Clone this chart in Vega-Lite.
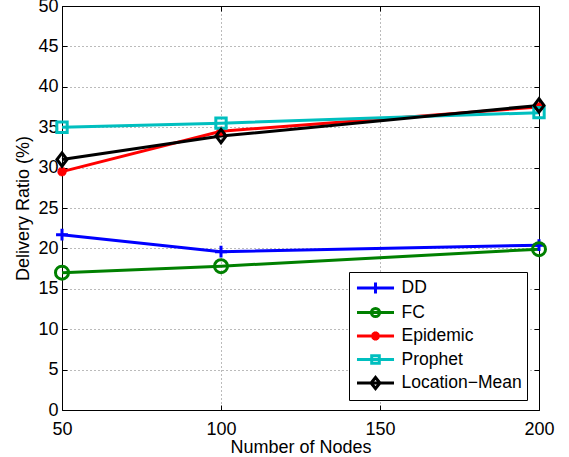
{
  "$schema": "https://vega.github.io/schema/vega-lite/v6.json",
  "width": 477,
  "height": 404,
  "autosize": {"type": "none"},
  "padding": {"left": 62, "top": 6, "right": 30, "bottom": 47},
  "background": "white",
  "config": {
    "view": {"stroke": null},
    "font": "Liberation Sans",
    "axis": {
      "labelFont": "Liberation Sans",
      "labelFontSize": 18,
      "labelColor": "black",
      "titleFont": "Liberation Sans",
      "titleFontSize": 18,
      "titleFontWeight": "normal",
      "titleColor": "black",
      "domainColor": "black",
      "domainWidth": 1,
      "tickColor": "black",
      "tickWidth": 1,
      "gridColor": "#777777",
      "gridDash": [1, 3],
      "gridWidth": 1
    },
    "legend": {
      "labelFont": "Liberation Sans",
      "labelFontSize": 17.5,
      "labelColor": "black"
    }
  },
  "data": {
    "values": [
      {"nodes": 50, "ratio": 21.7, "series": "DD"},
      {"nodes": 100, "ratio": 19.6, "series": "DD"},
      {"nodes": 200, "ratio": 20.4, "series": "DD"},
      {"nodes": 50, "ratio": 17.0, "series": "FC"},
      {"nodes": 100, "ratio": 17.8, "series": "FC"},
      {"nodes": 200, "ratio": 19.9, "series": "FC"},
      {"nodes": 50, "ratio": 29.5, "series": "Epidemic"},
      {"nodes": 100, "ratio": 34.5, "series": "Epidemic"},
      {"nodes": 200, "ratio": 37.5, "series": "Epidemic"},
      {"nodes": 50, "ratio": 35.0, "series": "Prophet"},
      {"nodes": 100, "ratio": 35.5, "series": "Prophet"},
      {"nodes": 200, "ratio": 36.8, "series": "Prophet"},
      {"nodes": 50, "ratio": 31.0, "series": "Location−Mean"},
      {"nodes": 100, "ratio": 33.9, "series": "Location−Mean"},
      {"nodes": 200, "ratio": 37.7, "series": "Location−Mean"}
    ]
  },
  "resolve": {
    "scale": {"shape": "independent", "stroke": "independent"},
    "axis": {"x": "independent", "y": "independent"}
  },
  "layer": [
    {
      "mark": {"type": "line", "strokeWidth": 3},
      "encoding": {
        "x": {
          "field": "nodes", "type": "quantitative",
          "scale": {"domain": [50, 200], "nice": false, "zero": false},
          "axis": {"orient": "bottom", "title": "Number of Nodes", "values": [50, 100, 150, 200], "tickSize": -5, "labelPadding": 15, "titlePadding": 0, "grid": true, "labelFlush": false}
        },
        "y": {
          "field": "ratio", "type": "quantitative",
          "scale": {"domain": [0, 50], "nice": false},
          "axis": {"orient": "left", "title": "Delivery Ratio (%)", "values": [0, 5, 10, 15, 20, 25, 30, 35, 40, 45, 50], "tickSize": -5, "labelPadding": 9, "titlePadding": 5, "grid": true, "labelFlush": false}
        },
        "color": {
          "field": "series", "type": "nominal",
          "scale": {"domain": ["DD", "FC", "Epidemic", "Prophet", "Location−Mean"], "range": ["#0000FF", "#008000", "#FF0000", "#00BFBF", "#000000"]},
          "legend": null
        }
      }
    },
    {
      "mark": {"type": "point", "filled": false, "strokeWidth": 3, "size": 196, "opacity": 1},
      "encoding": {
        "x": {
          "field": "nodes", "type": "quantitative",
          "axis": {"orient": "top", "title": null, "labels": false, "values": [50, 100, 150, 200], "tickSize": -5, "grid": false}
        },
        "y": {
          "field": "ratio", "type": "quantitative",
          "axis": {"orient": "right", "title": null, "labels": false, "values": [0, 5, 10, 15, 20, 25, 30, 35, 40, 45, 50], "tickSize": -5, "grid": false}
        },
        "color": {"field": "series", "type": "nominal", "legend": null},
        "shape": {
          "field": "series", "type": "nominal",
          "scale": {
            "domain": ["DD", "FC", "Epidemic", "Prophet", "Location−Mean"],
            "range": [
              "M-0.85,0H0.85M0,-0.85V0.85",
              "M0.93,0A0.93,0.93 0 1,1 -0.93,0A0.93,0.93 0 1,1 0.93,0Z",
              "M0,-0.65V0.65M-0.65,0H0.65M-0.46,-0.46L0.46,0.46M-0.46,0.46L0.46,-0.46",
              "M-0.74,-0.74H0.74V0.74H-0.74Z",
              "M0,-0.95L0.72,0L0,0.95L-0.72,0Z"
            ]
          },
          "legend": null
        }
      }
    },
    {
      "mark": {"type": "point", "filled": false, "strokeWidth": 3, "size": 361, "opacity": 0},
      "encoding": {
        "x": {"field": "nodes", "type": "quantitative", "axis": null},
        "y": {"field": "ratio", "type": "quantitative", "axis": null},
        "stroke": {
          "field": "series", "type": "nominal",
          "scale": {"domain": ["DD", "FC", "Epidemic", "Prophet", "Location−Mean"], "range": ["#0000FF", "#008000", "#FF0000", "#00BFBF", "#000000"]},
          "legend": {"orient": "none", "legendX": 287, "legendY": 266, "title": null, "strokeColor": "black", "fillColor": "white", "padding": 5, "symbolOpacity": 1, "symbolStrokeWidth": 3, "symbolSize": 361, "symbolOffset": 10.5, "labelOffset": 15, "rowPadding": 1.5}
        },
        "shape": {
          "field": "series", "type": "nominal",
          "scale": {
            "domain": ["DD", "FC", "Epidemic", "Prophet", "Location−Mean"],
            "range": [
              "M-1.95,0H1.95M0,-0.58V0.58",
              "M-1.95,0H1.95M0.43,0A0.43,0.43 0 1,1 -0.43,0A0.43,0.43 0 1,1 0.43,0Z",
              "M-1.95,0H1.95M0,-0.47V0.47M-0.47,0H0.47M-0.33,-0.33L0.33,0.33M-0.33,0.33L0.33,-0.33",
              "M-1.95,0H1.95M-0.4,-0.4H0.4V0.4H-0.4Z",
              "M-1.95,0H1.95M0,-0.58L0.47,0L0,0.58L-0.47,0Z"
            ]
          },
          "legend": {"orient": "none", "legendX": 287, "legendY": 266, "title": null, "strokeColor": "black", "fillColor": "white", "padding": 5, "symbolOpacity": 1, "symbolStrokeWidth": 3, "symbolSize": 361, "symbolOffset": 10.5, "labelOffset": 15, "rowPadding": 1.5}
        }
      }
    }
  ]
}
